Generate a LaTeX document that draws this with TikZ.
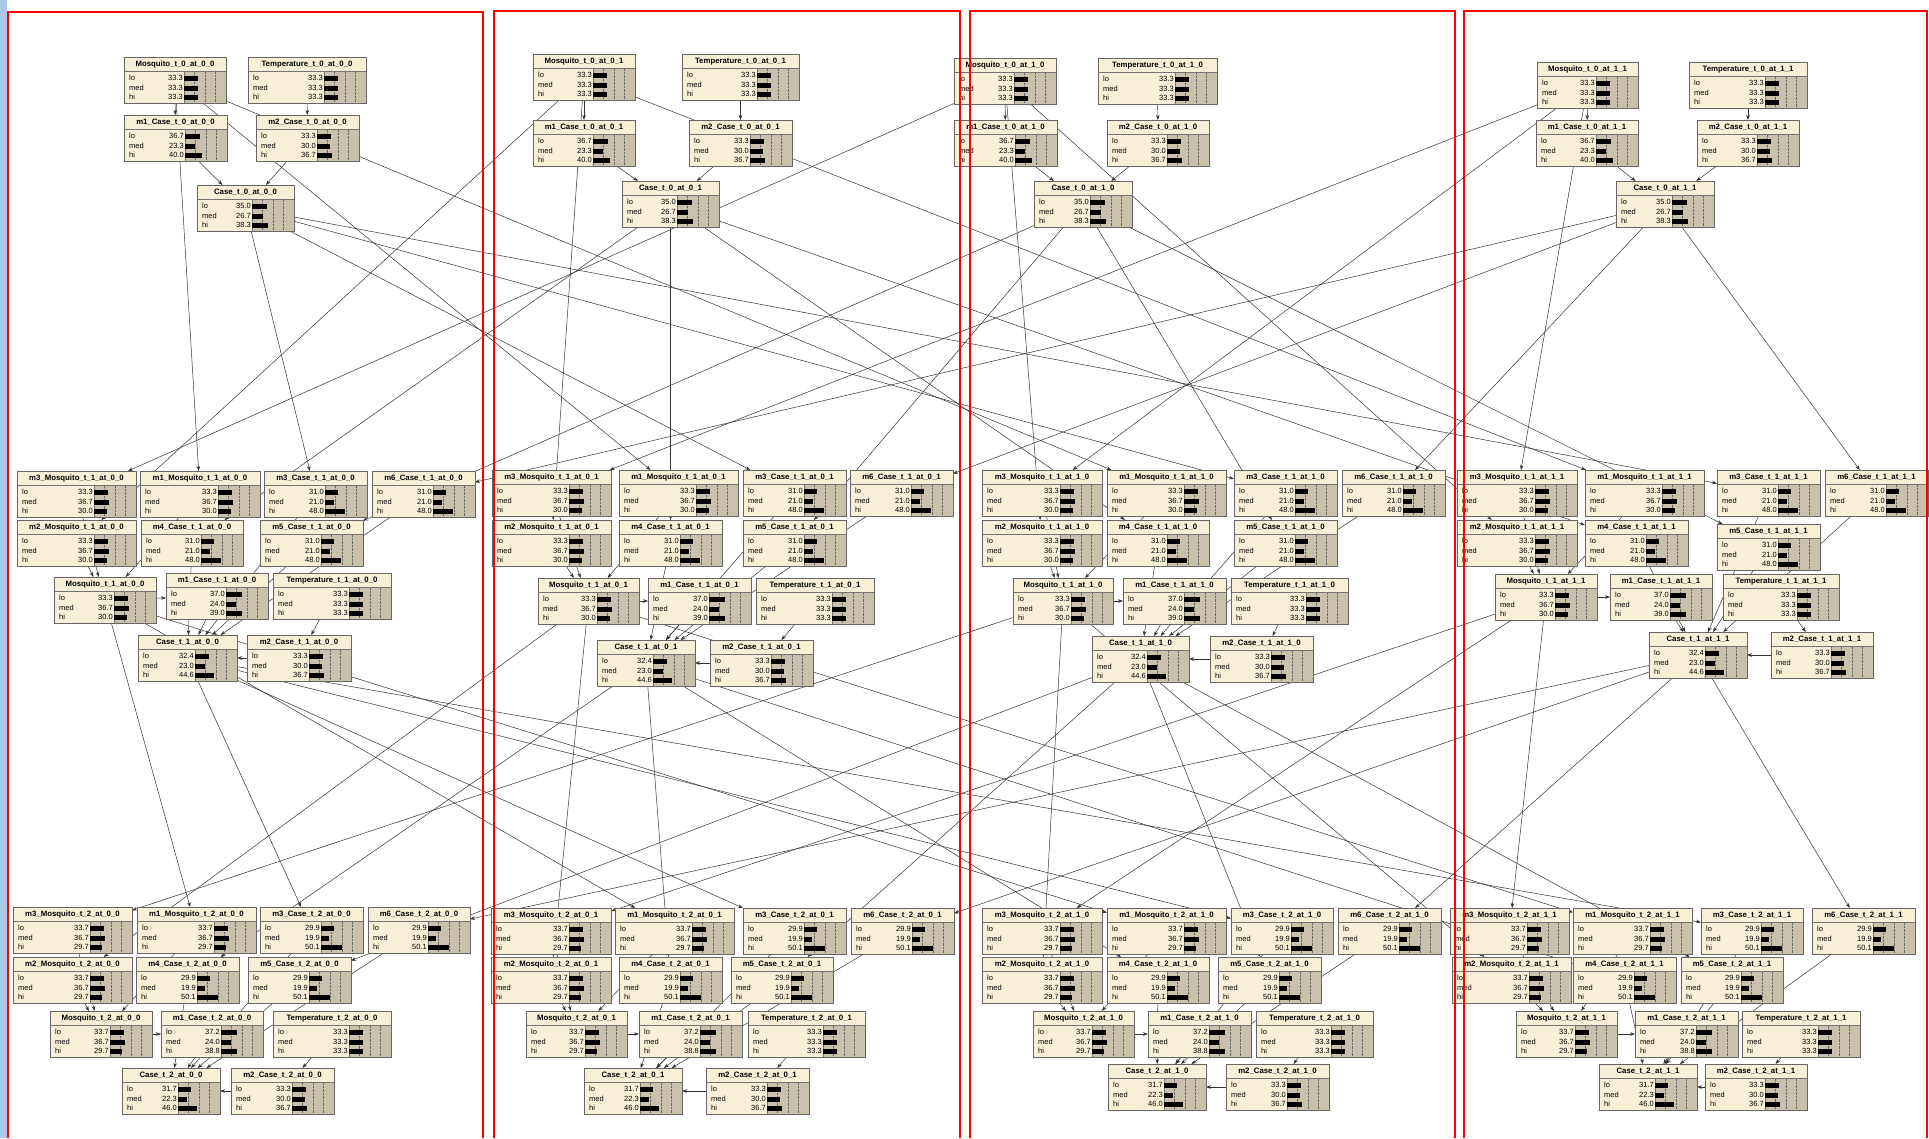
\documentclass[tikz,border=0pt]{standalone}
\usepackage{fontspec}
\setmainfont{Liberation Sans}
\usetikzlibrary{arrows.meta}
\definecolor{nodecream}{HTML}{F8F0D6}
\definecolor{barzone}{HTML}{C9C1AB}
\definecolor{stripblue}{HTML}{A9C8EA}
\pgfdeclarelayer{back}
\pgfdeclarelayer{links}
\pgfsetlayers{back,links,main}

% belief node: name, left, top, width, title, lo, med, hi
\newcommand{\bnet}[8]{%
  \node[netbox, minimum width=#4pt, anchor=north west] (#1) at (#2,#3) {};
  \fill[barzone] (#2+#4-42,#3+14) rectangle (#2+#4,#3+46);
  \foreach \f in {0.25,0.5,0.75}
    \draw[gridline] (#2+#4-42+42*\f,#3+15) -- (#2+#4-42+42*\f,#3+45);
  \draw[sepline] (#2,#3+14) -- (#2+#4,#3+14);
  \draw[sepline] (#2+#4-42,#3+14) -- (#2+#4-42,#3+46);
  \node[ttl] at (#2+#4/2,#3+7.5) {\detokenize{#5}};
  \foreach \s/\v/\r in {lo/#6/21,med/#7/31,hi/#8/40}{
    \node[lbl, anchor=west] at (#2+5,#3+\r) {\s};
    \node[lbl, anchor=east] at (#2+#4-43,#3+\r) {\v};
    \fill (#2+#4-42,#3+\r-2.5) rectangle ++(0.42*\v,5);
  }
  \draw[netborder] (#1.north west) rectangle (#1.south east);
}

\begin{document}
\begin{tikzpicture}[
    x=1pt, y=-1pt,
    netbox/.style={rectangle, fill=nodecream, minimum height=46pt, inner sep=0pt, outer sep=0pt},
    netborder/.style={draw=black!60, line width=0.8pt},
    sepline/.style={draw=black!55, line width=0.5pt},
    gridline/.style={draw=black!60, line width=0.4pt, densely dotted},
    ttl/.style={font=\fontsize{7.8}{8}\selectfont\bfseries, inner sep=0pt},
    lbl/.style={font=\fontsize{7.5}{8}\selectfont, inner sep=0pt},
    link/.style={-{Stealth[length=5pt,width=3.6pt]}, draw=black!80, line width=0.5pt},
    frame/.style={draw=red, line width=2.4pt}
]
\useasboundingbox (0,0) rectangle (1929,1138);
\begin{pgfonlayer}{back}
\fill[white] (0,0) rectangle (1929,1138);
\fill[stripblue] (0,0) rectangle (7,1138);
\end{pgfonlayer}

% cell 0_0
\bnet{MosqT0A}{124}{57}{102}{Mosquito_t_0_at_0_0}{33.3}{33.3}{33.3}
\bnet{TempT0A}{248}{57}{118}{Temperature_t_0_at_0_0}{33.3}{33.3}{33.3}
\bnet{m1CaseT0A}{124}{115}{103}{m1_Case_t_0_at_0_0}{36.7}{23.3}{40.0}
\bnet{m2CaseT0A}{256}{115}{103}{m2_Case_t_0_at_0_0}{33.3}{30.0}{36.7}
\bnet{CaseT0A}{197}{185}{97}{Case_t_0_at_0_0}{35.0}{26.7}{38.3}
\bnet{m3MosqT1A}{17}{471}{119}{m3_Mosquito_t_1_at_0_0}{33.3}{36.7}{30.0}
\bnet{m1MosqT1A}{140}{471}{120}{m1_Mosquito_t_1_at_0_0}{33.3}{36.7}{30.0}
\bnet{m3CaseT1A}{264}{471}{103}{m3_Case_t_1_at_0_0}{31.0}{21.0}{48.0}
\bnet{m6CaseT1A}{372}{471}{103}{m6_Case_t_1_at_0_0}{31.0}{21.0}{48.0}
\bnet{m2MosqT1A}{17}{520}{119}{m2_Mosquito_t_1_at_0_0}{33.3}{36.7}{30.0}
\bnet{m4CaseT1A}{141}{520}{102}{m4_Case_t_1_at_0_0}{31.0}{21.0}{48.0}
\bnet{m5CaseT1A}{260}{520}{103}{m5_Case_t_1_at_0_0}{31.0}{21.0}{48.0}
\bnet{MosqT1A}{54}{577}{102}{Mosquito_t_1_at_0_0}{33.3}{36.7}{30.0}
\bnet{m1CaseT1A}{166}{573}{102}{m1_Case_t_1_at_0_0}{37.0}{24.0}{39.0}
\bnet{TempT1A}{273}{573}{118}{Temperature_t_1_at_0_0}{33.3}{33.3}{33.3}
\bnet{CaseT1A}{138}{635}{99}{Case_t_1_at_0_0}{32.4}{23.0}{44.6}
\bnet{m2CaseT1A}{247}{635}{104}{m2_Case_t_1_at_0_0}{33.3}{30.0}{36.7}
\bnet{m3MosqT2A}{13}{907}{119}{m3_Mosquito_t_2_at_0_0}{33.7}{36.7}{29.7}
\bnet{m1MosqT2A}{137}{907}{119}{m1_Mosquito_t_2_at_0_0}{33.7}{36.7}{29.7}
\bnet{m3CaseT2A}{260}{907}{103}{m3_Case_t_2_at_0_0}{29.9}{19.9}{50.1}
\bnet{m6CaseT2A}{368}{907}{102}{m6_Case_t_2_at_0_0}{29.9}{19.9}{50.1}
\bnet{m2MosqT2A}{13}{957}{119}{m2_Mosquito_t_2_at_0_0}{33.7}{36.7}{29.7}
\bnet{m4CaseT2A}{136}{957}{103}{m4_Case_t_2_at_0_0}{29.9}{19.9}{50.1}
\bnet{m5CaseT2A}{248}{957}{103}{m5_Case_t_2_at_0_0}{29.9}{19.9}{50.1}
\bnet{MosqT2A}{50}{1011}{102}{Mosquito_t_2_at_0_0}{33.7}{36.7}{29.7}
\bnet{m1CaseT2A}{161}{1011}{102}{m1_Case_t_2_at_0_0}{37.2}{24.0}{38.8}
\bnet{TempT2A}{273}{1011}{118}{Temperature_t_2_at_0_0}{33.3}{33.3}{33.3}
\bnet{CaseT2A}{122}{1068}{98}{Case_t_2_at_0_0}{31.7}{22.3}{46.0}
\bnet{m2CaseT2A}{231}{1068}{103}{m2_Case_t_2_at_0_0}{33.3}{30.0}{36.7}

% cell 0_1
\bnet{MosqT0B}{533}{54}{102}{Mosquito_t_0_at_0_1}{33.3}{33.3}{33.3}
\bnet{TempT0B}{682}{54}{117}{Temperature_t_0_at_0_1}{33.3}{33.3}{33.3}
\bnet{m1CaseT0B}{533}{120}{102}{m1_Case_t_0_at_0_1}{36.7}{23.3}{40.0}
\bnet{m2CaseT0B}{689}{120}{103}{m2_Case_t_0_at_0_1}{33.3}{30.0}{36.7}
\bnet{CaseT0B}{622}{181}{97}{Case_t_0_at_0_1}{35.0}{26.7}{38.3}
\bnet{m3MosqT1B}{492}{470}{119}{m3_Mosquito_t_1_at_0_1}{33.3}{36.7}{30.0}
\bnet{m1MosqT1B}{619}{470}{119}{m1_Mosquito_t_1_at_0_1}{33.3}{36.7}{30.0}
\bnet{m3CaseT1B}{743}{470}{103}{m3_Case_t_1_at_0_1}{31.0}{21.0}{48.0}
\bnet{m6CaseT1B}{850}{470}{103}{m6_Case_t_1_at_0_1}{31.0}{21.0}{48.0}
\bnet{m2MosqT1B}{492}{520}{119}{m2_Mosquito_t_1_at_0_1}{33.3}{36.7}{30.0}
\bnet{m4CaseT1B}{619}{520}{103}{m4_Case_t_1_at_0_1}{31.0}{21.0}{48.0}
\bnet{m5CaseT1B}{743}{520}{103}{m5_Case_t_1_at_0_1}{31.0}{21.0}{48.0}
\bnet{MosqT1B}{538}{578}{101}{Mosquito_t_1_at_0_1}{33.3}{36.7}{30.0}
\bnet{m1CaseT1B}{648}{578}{103}{m1_Case_t_1_at_0_1}{37.0}{24.0}{39.0}
\bnet{TempT1B}{756}{578}{118}{Temperature_t_1_at_0_1}{33.3}{33.3}{33.3}
\bnet{CaseT1B}{597}{640}{98}{Case_t_1_at_0_1}{32.4}{23.0}{44.6}
\bnet{m2CaseT1B}{710}{640}{103}{m2_Case_t_1_at_0_1}{33.3}{30.0}{36.7}
\bnet{m3MosqT2B}{491}{908}{120}{m3_Mosquito_t_2_at_0_1}{33.7}{36.7}{29.7}
\bnet{m1MosqT2B}{615}{908}{119}{m1_Mosquito_t_2_at_0_1}{33.7}{36.7}{29.7}
\bnet{m3CaseT2B}{743}{908}{103}{m3_Case_t_2_at_0_1}{29.9}{19.9}{50.1}
\bnet{m6CaseT2B}{851}{908}{103}{m6_Case_t_2_at_0_1}{29.9}{19.9}{50.1}
\bnet{m2MosqT2B}{491}{957}{120}{m2_Mosquito_t_2_at_0_1}{33.7}{36.7}{29.7}
\bnet{m4CaseT2B}{619}{957}{103}{m4_Case_t_2_at_0_1}{29.9}{19.9}{50.1}
\bnet{m5CaseT2B}{731}{957}{102}{m5_Case_t_2_at_0_1}{29.9}{19.9}{50.1}
\bnet{MosqT2B}{526}{1011}{101}{Mosquito_t_2_at_0_1}{33.7}{36.7}{29.7}
\bnet{m1CaseT2B}{639}{1011}{103}{m1_Case_t_2_at_0_1}{37.2}{24.0}{38.8}
\bnet{TempT2B}{748}{1011}{117}{Temperature_t_2_at_0_1}{33.3}{33.3}{33.3}
\bnet{CaseT2B}{584}{1068}{98}{Case_t_2_at_0_1}{31.7}{22.3}{46.0}
\bnet{m2CaseT2B}{706}{1068}{103}{m2_Case_t_2_at_0_1}{33.3}{30.0}{36.7}

% cell 1_0
\bnet{MosqT0C}{954}{58}{102}{Mosquito_t_0_at_1_0}{33.3}{33.3}{33.3}
\bnet{TempT0C}{1098}{58}{119}{Temperature_t_0_at_1_0}{33.3}{33.3}{33.3}
\bnet{m1CaseT0C}{954}{120}{103}{m1_Case_t_0_at_1_0}{36.7}{23.3}{40.0}
\bnet{m2CaseT0C}{1107}{120}{102}{m2_Case_t_0_at_1_0}{33.3}{30.0}{36.7}
\bnet{CaseT0C}{1034}{181}{98}{Case_t_0_at_1_0}{35.0}{26.7}{38.3}
\bnet{m3MosqT1C}{982}{470}{120}{m3_Mosquito_t_1_at_1_0}{33.3}{36.7}{30.0}
\bnet{m1MosqT1C}{1107}{470}{119}{m1_Mosquito_t_1_at_1_0}{33.3}{36.7}{30.0}
\bnet{m3CaseT1C}{1234}{470}{103}{m3_Case_t_1_at_1_0}{31.0}{21.0}{48.0}
\bnet{m6CaseT1C}{1342}{470}{103}{m6_Case_t_1_at_1_0}{31.0}{21.0}{48.0}
\bnet{m2MosqT1C}{982}{520}{120}{m2_Mosquito_t_1_at_1_0}{33.3}{36.7}{30.0}
\bnet{m4CaseT1C}{1107}{520}{102}{m4_Case_t_1_at_1_0}{31.0}{21.0}{48.0}
\bnet{m5CaseT1C}{1234}{520}{103}{m5_Case_t_1_at_1_0}{31.0}{21.0}{48.0}
\bnet{MosqT1C}{1013}{578}{100}{Mosquito_t_1_at_1_0}{33.3}{36.7}{30.0}
\bnet{m1CaseT1C}{1123}{578}{103}{m1_Case_t_1_at_1_0}{37.0}{24.0}{39.0}
\bnet{TempT1C}{1231}{578}{117}{Temperature_t_1_at_1_0}{33.3}{33.3}{33.3}
\bnet{CaseT1C}{1092}{636}{97}{Case_t_1_at_1_0}{32.4}{23.0}{44.6}
\bnet{m2CaseT1C}{1210}{636}{103}{m2_Case_t_1_at_1_0}{33.3}{30.0}{36.7}
\bnet{m3MosqT2C}{982}{908}{120}{m3_Mosquito_t_2_at_1_0}{33.7}{36.7}{29.7}
\bnet{m1MosqT2C}{1107}{908}{119}{m1_Mosquito_t_2_at_1_0}{33.7}{36.7}{29.7}
\bnet{m3CaseT2C}{1231}{908}{102}{m3_Case_t_2_at_1_0}{29.9}{19.9}{50.1}
\bnet{m6CaseT2C}{1338}{908}{103}{m6_Case_t_2_at_1_0}{29.9}{19.9}{50.1}
\bnet{m2MosqT2C}{982}{957}{120}{m2_Mosquito_t_2_at_1_0}{33.7}{36.7}{29.7}
\bnet{m4CaseT2C}{1107}{957}{102}{m4_Case_t_2_at_1_0}{29.9}{19.9}{50.1}
\bnet{m5CaseT2C}{1218}{957}{103}{m5_Case_t_2_at_1_0}{29.9}{19.9}{50.1}
\bnet{MosqT2C}{1033}{1011}{101}{Mosquito_t_2_at_1_0}{33.7}{36.7}{29.7}
\bnet{m1CaseT2C}{1148}{1011}{103}{m1_Case_t_2_at_1_0}{37.2}{24.0}{38.8}
\bnet{TempT2C}{1256}{1011}{117}{Temperature_t_2_at_1_0}{33.3}{33.3}{33.3}
\bnet{CaseT2C}{1108}{1064}{98}{Case_t_2_at_1_0}{31.7}{22.3}{46.0}
\bnet{m2CaseT2C}{1226}{1064}{103}{m2_Case_t_2_at_1_0}{33.3}{30.0}{36.7}

% cell 1_1
\bnet{MosqT0D}{1537}{62}{101}{Mosquito_t_0_at_1_1}{33.3}{33.3}{33.3}
\bnet{TempT0D}{1689}{62}{118}{Temperature_t_0_at_1_1}{33.3}{33.3}{33.3}
\bnet{m1CaseT0D}{1536}{120}{102}{m1_Case_t_0_at_1_1}{36.7}{23.3}{40.0}
\bnet{m2CaseT0D}{1697}{120}{102}{m2_Case_t_0_at_1_1}{33.3}{30.0}{36.7}
\bnet{CaseT0D}{1616}{181}{98}{Case_t_0_at_1_1}{35.0}{26.7}{38.3}
\bnet{m3MosqT1D}{1457}{470}{120}{m3_Mosquito_t_1_at_1_1}{33.3}{36.7}{30.0}
\bnet{m1MosqT1D}{1585}{470}{119}{m1_Mosquito_t_1_at_1_1}{33.3}{36.7}{30.0}
\bnet{m3CaseT1D}{1717}{470}{103}{m3_Case_t_1_at_1_1}{31.0}{21.0}{48.0}
\bnet{m6CaseT1D}{1825}{470}{103}{m6_Case_t_1_at_1_1}{31.0}{21.0}{48.0}
\bnet{m2MosqT1D}{1457}{520}{120}{m2_Mosquito_t_1_at_1_1}{33.3}{36.7}{30.0}
\bnet{m4CaseT1D}{1585}{520}{103}{m4_Case_t_1_at_1_1}{31.0}{21.0}{48.0}
\bnet{m5CaseT1D}{1717}{524}{103}{m5_Case_t_1_at_1_1}{31.0}{21.0}{48.0}
\bnet{MosqT1D}{1495}{574}{102}{Mosquito_t_1_at_1_1}{33.3}{36.7}{30.0}
\bnet{m1CaseT1D}{1610}{574}{102}{m1_Case_t_1_at_1_1}{37.0}{24.0}{39.0}
\bnet{TempT1D}{1723}{574}{116}{Temperature_t_1_at_1_1}{33.3}{33.3}{33.3}
\bnet{CaseT1D}{1649}{632}{98}{Case_t_1_at_1_1}{32.4}{23.0}{44.6}
\bnet{m2CaseT1D}{1771}{632}{102}{m2_Case_t_1_at_1_1}{33.3}{30.0}{36.7}
\bnet{m3MosqT2D}{1450}{908}{119}{m3_Mosquito_t_2_at_1_1}{33.7}{36.7}{29.7}
\bnet{m1MosqT2D}{1573}{908}{119}{m1_Mosquito_t_2_at_1_1}{33.7}{36.7}{29.7}
\bnet{m3CaseT2D}{1701}{908}{102}{m3_Case_t_2_at_1_1}{29.9}{19.9}{50.1}
\bnet{m6CaseT2D}{1812}{908}{103}{m6_Case_t_2_at_1_1}{29.9}{19.9}{50.1}
\bnet{m2MosqT2D}{1452}{957}{119}{m2_Mosquito_t_2_at_1_1}{33.7}{36.7}{29.7}
\bnet{m4CaseT2D}{1573}{957}{103}{m4_Case_t_2_at_1_1}{29.9}{19.9}{50.1}
\bnet{m5CaseT2D}{1681}{957}{102}{m5_Case_t_2_at_1_1}{29.9}{19.9}{50.1}
\bnet{MosqT2D}{1516}{1011}{101}{Mosquito_t_2_at_1_1}{33.7}{36.7}{29.7}
\bnet{m1CaseT2D}{1635}{1011}{103}{m1_Case_t_2_at_1_1}{37.2}{24.0}{38.8}
\bnet{TempT2D}{1742}{1011}{118}{Temperature_t_2_at_1_1}{33.3}{33.3}{33.3}
\bnet{CaseT2D}{1599}{1064}{98}{Case_t_2_at_1_1}{31.7}{22.3}{46.0}
\bnet{m2CaseT2D}{1705}{1064}{102}{m2_Case_t_2_at_1_1}{33.3}{30.0}{36.7}

% links
\begin{pgfonlayer}{links}
\foreach \c in {A,B,C,D}{
  \draw[link] (MosqT0\c) -- (m1CaseT0\c);
  \draw[link] (TempT0\c) -- (m2CaseT0\c);
  \draw[link] (m1CaseT0\c) -- (CaseT0\c);
  \draw[link] (m2CaseT0\c) -- (CaseT0\c);
  \foreach \t in {1,2}{
    \foreach \m in {m1Mosq,m2Mosq,m3Mosq}
      \draw[link] (\m T\t\c) -- (MosqT\t\c);
    \draw[link] (MosqT\t\c) -- (m1CaseT\t\c);
    \draw[link] (TempT\t\c) -- (m2CaseT\t\c);
    \foreach \m in {m1Case,m2Case,m3Case,m4Case,m5Case,m6Case}
      \draw[link] (\m T\t\c) -- (CaseT\t\c);
  }
}
% links between steps and cells
\foreach \t/\s in {1/0,2/1}{
  \foreach \y in {A,B,C,D}{
    \draw[link] (CaseT\s A) -- (m3CaseT\t\y);
    \draw[link] (CaseT\s B) -- (m4CaseT\t\y);
    \draw[link] (CaseT\s C) -- (m5CaseT\t\y);
    \draw[link] (CaseT\s D) -- (m6CaseT\t\y);
  }
  \foreach \y/\p/\q/\r in {A/A/B/C,B/A/B/D,C/A/C/D,D/B/C/D}{
    \draw[link] (MosqT\s\p) -- (m1MosqT\t\y);
    \draw[link] (MosqT\s\q) -- (m2MosqT\t\y);
    \draw[link] (MosqT\s\r) -- (m3MosqT\t\y);
  }
}
\end{pgfonlayer}

% cell frames
\draw[frame] (8,1138) -- (8,12) -- (483,12) -- (483,1138);
\draw[frame] (494,1138) -- (494,11) -- (960,11) -- (960,1138);
\draw[frame] (970,1138) -- (970,11) -- (1455,11) -- (1455,1138);
\draw[frame] (1464,1138) -- (1464,11) -- (1927,11) -- (1927,1138);
\end{tikzpicture}
\end{document}
